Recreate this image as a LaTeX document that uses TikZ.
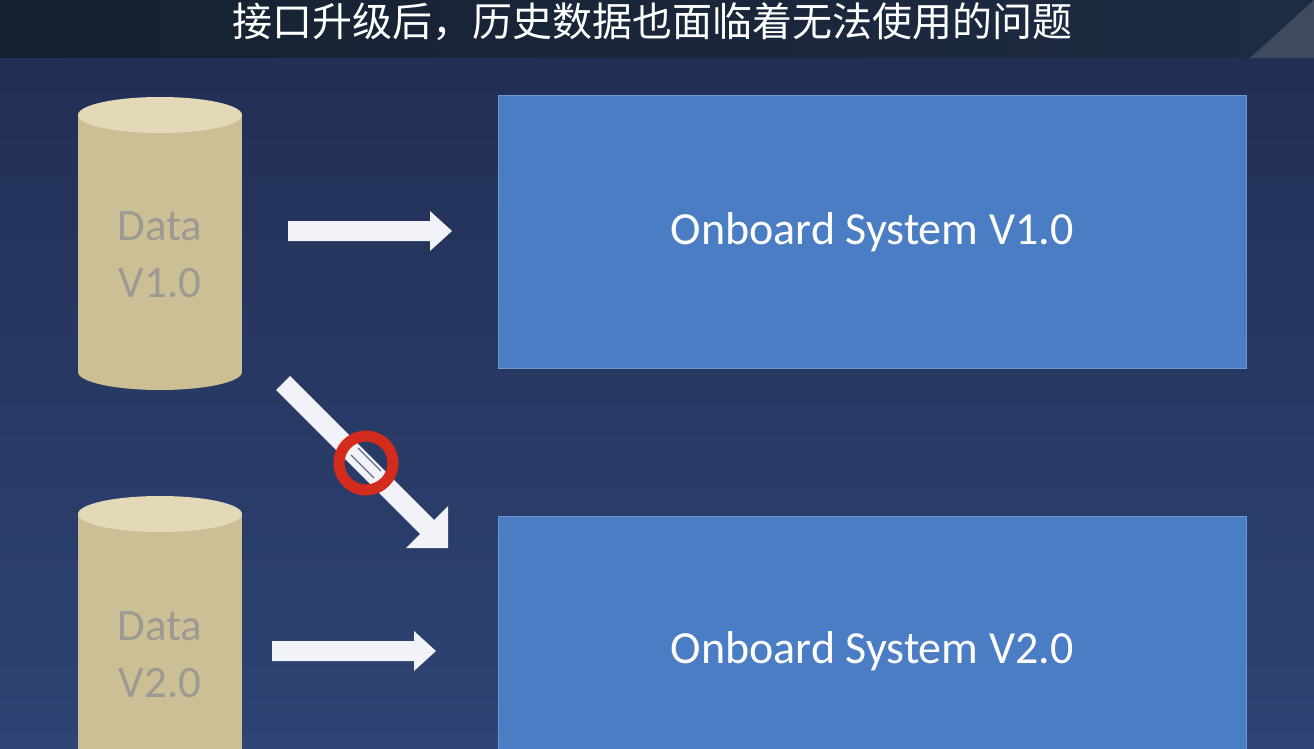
\documentclass[tikz,border=0pt]{standalone}
\usepackage{fontspec}
\setmainfont{Carlito}
\newfontfamily\cjk{Noto Sans CJK SC}
\usetikzlibrary{shapes.geometric,calc}
\definecolor{bgtop}{HTML}{222F55}
\definecolor{bgbot}{HTML}{2E4474}
\definecolor{hdr}{HTML}{16212F}
\definecolor{boxblue}{HTML}{4A7DC4}
\definecolor{cyl}{HTML}{CDBF95}
\definecolor{cyltop}{HTML}{E3D9B8}
\definecolor{cyltxt}{HTML}{9C9A92}
\definecolor{nored}{HTML}{D32B1C}
\definecolor{arr}{HTML}{F2F3F8}
\tikzset{
 sysbox/.style={fill=boxblue,draw=boxblue!80!white,line width=1pt,text=white,font=\fontsize{46}{52}\selectfont},
 cyltext/.style={text=cyltxt,font=\fontsize{45}{57}\selectfont,align=center}
}
\begin{document}
\begin{tikzpicture}[x=1pt,y=-1pt]
\useasboundingbox (0,0) rectangle (1314,749);
\shade[top color=bgtop,bottom color=bgbot] (0,58) rectangle (1314,749);
\shade[left color=hdr,right color=hdr!70!bgbot] (0,0) rectangle (1314,58);
\fill[white,opacity=0.15] (1250,58) -- (1314,0) -- (1314,58) -- cycle;
\node[text=white,font=\cjk\fontsize{40}{44}\selectfont] (title) at (652,22) {接口升级后，历史数据也面临着无法使用的问题};
% boxes
\node[sysbox,minimum width=748pt,minimum height=272pt] (s1) at (872,232) {Onboard System V1.0};
\fill[boxblue] (498,516) rectangle (1246,760);
\draw[boxblue!80!white,line width=1pt] (498,760) -- (498,516) -- (1246,516) -- (1246,760);
\node[text=white,font=\fontsize{46}{52}\selectfont] (s2) at (872,651) {Onboard System V2.0};
% cylinders
\fill[cyl] (78,115) rectangle (242,372);
\fill[cyl] (160,372) ellipse (82pt and 18pt);
\fill[cyltop] (160,115) ellipse (82pt and 18pt);
\node[cyltext] (d1) at (160,255) {Data\\V1.0};
\fill[cyl] (78,514) rectangle (242,760);
\fill[cyltop] (160,514) ellipse (82pt and 18pt);
\node[cyltext] (d2) at (160,655) {Data\\V2.0};
% arrows
\coordinate (a1) at (288,231);
\coordinate (a2) at (272,651);
\fill[arr] ($(a1)+(0,-10)$) -- ++(142,0) -- ++(0,-10) -- ++(22,20) -- ++(-22,20) -- ++(0,-10) -- ++(-142,0) -- cycle;
\fill[arr] ($(a2)+(0,-10)$) -- ++(142,0) -- ++(0,-10) -- ++(22,20) -- ++(-22,20) -- ++(0,-10) -- ++(-142,0) -- cycle;
\fill[arr] (276,390) -- (290,376) -- (434,520) -- (448,506) -- (448,548) -- (406,548) -- (420,534) -- cycle;
\coordinate (nc) at (366,463);
\draw[nored,line width=11pt] (nc) circle (27pt);
\draw[bgtop!70!white,line width=1.4pt] ($(nc)+(-15,-8)$) -- ($(nc)+(8,15)$);
\draw[bgtop!70!white,line width=1.4pt] ($(nc)+(-8,-15)$) -- ($(nc)+(15,8)$);
\end{tikzpicture}
\end{document}
